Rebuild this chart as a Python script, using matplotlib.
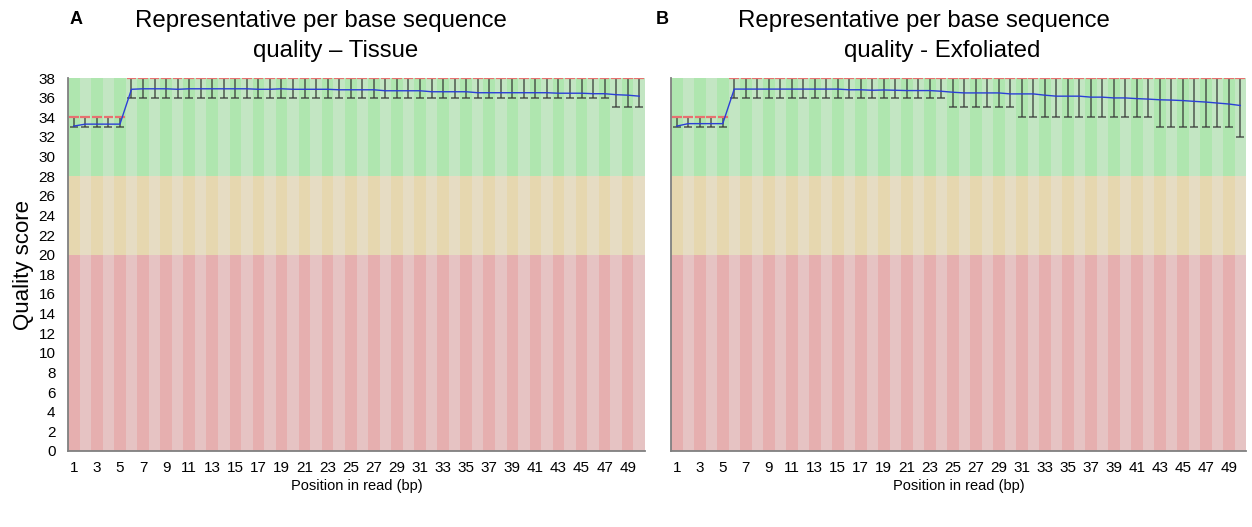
import matplotlib
matplotlib.use("Agg")
import matplotlib.pyplot as plt
import numpy as np

plt.rcParams['font.family'] = ['Liberation Sans', 'DejaVu Sans']

positions = list(range(1, 51))
tick_labels = [str(p) for p in range(1, 50, 2)]

# panel A - tissue
mean_a = [33.1, 33.3, 33.3, 33.3, 33.3,
          36.85, 36.9, 36.9, 36.9, 36.85, 36.9, 36.9, 36.9, 36.9, 36.9,
          36.9, 36.85, 36.85, 36.9, 36.85, 36.85, 36.85, 36.85, 36.8, 36.8,
          36.8, 36.8, 36.7, 36.7, 36.7, 36.7, 36.6, 36.6, 36.6, 36.6,
          36.5, 36.5, 36.5, 36.5, 36.5, 36.5, 36.5, 36.45, 36.45, 36.45,
          36.4, 36.4, 36.3, 36.25, 36.15]
low_a = [33] * 5 + [36] * 42 + [35] * 3
high_a = [34] * 5 + [38] * 45

# panel B - exfoliated
mean_b = [33.1, 33.35, 33.35, 33.35, 33.35,
          36.87, 36.87, 36.87, 36.87, 36.87, 36.87, 36.87, 36.87, 36.87, 36.87,
          36.8, 36.8, 36.75, 36.78, 36.75, 36.72, 36.72, 36.72, 36.65, 36.55,
          36.48, 36.48, 36.48, 36.48, 36.38, 36.38, 36.38, 36.25, 36.15, 36.15,
          36.15, 36.05, 36.05, 35.97, 35.97, 35.9, 35.85, 35.78, 35.75, 35.7,
          35.62, 35.55, 35.45, 35.35, 35.2]
low_b = [33] * 5 + [36] * 19 + [35] * 6 + [34] * 12 + [33] * 7 + [32]
high_b = [34] * 5 + [38] * 45

green = ('#afe6af', '#c3e6c3')
orange = ('#e6d7af', '#e6dcc3')
red = ('#e6afaf', '#e6c3c3')


def draw_panel(ax, mean, low, high, show_y=True):
    for p in positions:
        k = 0 if p % 2 == 1 else 1
        for (y0, y1), cols in [((0, 20), red), ((20, 28), orange), ((28, 38), green)]:
            ax.fill_between([p - 0.5, p + 0.5], y0, y1, color=cols[k], lw=0, zorder=0)
    x = np.array(positions)
    ax.vlines(x, low, high, color='#333333', lw=1.1, alpha=0.8, zorder=2)
    ax.hlines(low, x - 0.35, x + 0.35, color='#333333', lw=1.1, alpha=0.8, zorder=2)
    ax.hlines(high, x - 0.35, x + 0.35, color='#333333', lw=1.1, alpha=0.8, zorder=2)
    ax.hlines(high, x - 0.42, x + 0.42, color='#e87070', lw=1.6, zorder=3)
    ax.plot(positions, mean, color='#2b3fd6', lw=1.0, zorder=4)
    ax.set_xlim(0.5, 50.5)
    ax.set_ylim(0, 38)
    ax.set_yticks(range(0, 39, 2))
    if not show_y:
        ax.set_yticklabels([])
    ax.set_xticks(range(1, 50, 2))
    ax.set_xticklabels(tick_labels)
    ax.tick_params(length=0, labelsize=11)
    ax.tick_params(axis='x', pad=7)
    ax.tick_params(axis='y', pad=9)
    for s in ['top', 'right']:
        ax.spines[s].set_visible(False)
    for s in ['left', 'bottom']:
        ax.spines[s].set_color('#808080')
        ax.spines[s].set_linewidth(1.3)
    ax.set_xlabel('Position in read (bp)', fontsize=10.5, labelpad=3)


fig = plt.figure(figsize=(12.52, 5.27), dpi=100)
ax_a = fig.add_axes([68 / 1252, 1 - 451 / 527, 577 / 1252, 373 / 527])
ax_b = fig.add_axes([671 / 1252, 1 - 451 / 527, 575 / 1252, 373 / 527])
draw_panel(ax_a, mean_a, low_a, high_a)
draw_panel(ax_b, mean_b, low_b, high_b, show_y=False)
ax_a.set_ylabel('Quality score', fontsize=16, labelpad=3)

fig.text(76 / 1252, 1 - 19 / 527, 'A', fontsize=13, fontweight='bold', ha='center', va='center')
fig.text(662 / 1252, 1 - 19 / 527, 'B', fontsize=13, fontweight='bold', ha='center', va='center')
fig.text(321 / 1252, 1 - 21 / 527, 'Representative per base sequence', fontsize=17.3, ha='center', va='center')
fig.text(336 / 1252, 1 - 51 / 527, 'quality \u2013 Tissue', fontsize=17.3, ha='center', va='center')
fig.text(924 / 1252, 1 - 21 / 527, 'Representative per base sequence', fontsize=17.3, ha='center', va='center')
fig.text(942 / 1252, 1 - 51 / 527, 'quality - Exfoliated', fontsize=17.3, ha='center', va='center')

fig.savefig('out.png', dpi=100)
